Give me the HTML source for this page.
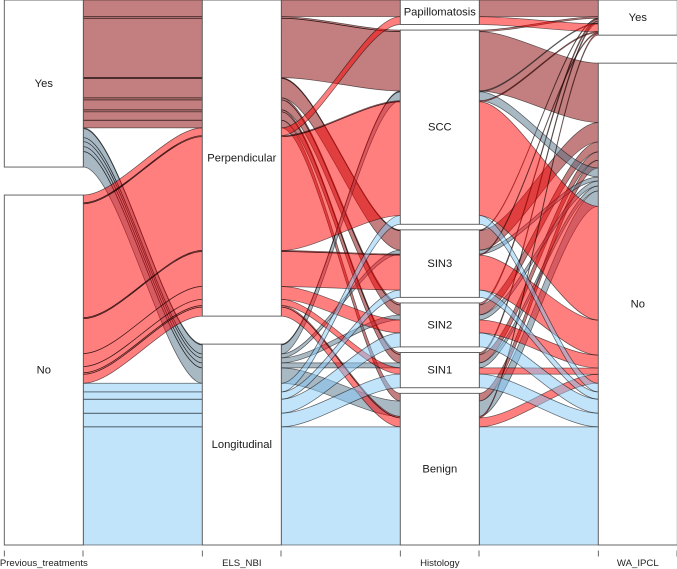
<!DOCTYPE html>
<html lang="en">
<head>
<meta charset="utf-8">
<title>Alluvial chart</title>
<style>
html,body{margin:0;padding:0;background:#fff;}
svg{display:block;font-family:"Liberation Sans",Arial,sans-serif;}
</style>
</head>
<body>
<svg id="chart" xmlns="http://www.w3.org/2000/svg" width="677" height="569" viewBox="0 0 677 569"></svg>
<script>
var axisNames = ["Previous_treatments", "ELS_NBI", "Histology", "WA_IPCL"];
var prevCategories = ["Yes", "No"];
var elsCategories = ["Perpendicular", "Longitudinal"];
var histCategories = ["Papillomatosis", "SCC", "SIN3", "SIN2", "SIN1", "Benign"];
var waCategories = ["Yes", "No"];

var rowPrev = ["Yes","Yes","Yes","Yes","Yes","Yes","Yes","Yes","Yes","Yes",
               "Yes","Yes","Yes","Yes","Yes","Yes",
               "No","No","No","No","No","No","No","No","No",
               "No","No","No","No","No"];
var rowEls  = ["Perpendicular","Perpendicular","Perpendicular","Perpendicular","Perpendicular","Perpendicular","Perpendicular","Perpendicular","Perpendicular","Perpendicular",
               "Longitudinal","Longitudinal","Longitudinal","Longitudinal","Longitudinal","Longitudinal",
               "Perpendicular","Perpendicular","Perpendicular","Perpendicular","Perpendicular","Perpendicular","Perpendicular","Perpendicular","Perpendicular",
               "Longitudinal","Longitudinal","Longitudinal","Longitudinal","Longitudinal"];
var rowHist = ["Papillomatosis","SCC","SCC","SIN3","SIN3","SIN2","SIN2","SIN1","SIN1","Benign",
               "SCC","SCC","SIN3","SIN2","SIN1","Benign",
               "Papillomatosis","SCC","SCC","SIN3","SIN3","SIN2","SIN1","Benign","Benign",
               "SCC","SIN3","SIN2","SIN1","Benign"];
var rowWa   = ["Yes","Yes","No","Yes","No","Yes","No","Yes","No","No",
               "Yes","No","No","No","No","No",
               "Yes","Yes","No","Yes","No","No","No","Yes","No",
               "No","No","No","No","No"];
var rowFreq = [16.7,1.6,59.4,0.8,19.5,2,10,2,8.4,7.7,
               0.8,9,4,5,5,15.4,
               7.8,1,114,1,35,13,6.2,1.5,9,
               8.7,7.3,14,13.7,118.3];

var groupFills = {
  "Yes|Perpendicular": "rgba(136,0,0,0.5)",
  "Yes|Longitudinal": "rgba(83,115,137,0.5)",
  "No|Perpendicular": "rgba(255,0,0,0.5)",
  "No|Longitudinal": "rgba(133,201,247,0.5)"
};

var NS = "http://www.w3.org/2000/svg";
var svg = document.getElementById("chart");
var axisLeft = function (i) { return 4.3 + i * 198; };
var boxWidth = 79;
var plotHeight = 545;
var totalGap = 28;
var totalFreq = rowFreq.reduce(function (a, b) { return a + b; }, 0);
var yScale = function (v) { return v * (plotHeight - totalGap) / totalFreq; };

var axes = [
  { cats: prevCategories, vals: rowPrev },
  { cats: elsCategories, vals: rowEls },
  { cats: histCategories, vals: rowHist },
  { cats: waCategories, vals: rowWa }
];

axes.forEach(function (axis) {
  var gap = totalGap / (axis.cats.length - 1);
  var cursor = 0;
  axis.boxes = [];
  axis.tops = new Array(rowFreq.length);
  axis.cats.forEach(function (cat) {
    var start = cursor;
    rowFreq.forEach(function (f, r) {
      if (axis.vals[r] === cat) {
        axis.tops[r] = cursor;
        cursor += yScale(f);
      }
    });
    axis.boxes.push({ cat: cat, y0: start, y1: cursor });
    cursor += gap;
  });
});

function flowPath(x0, x1, a0, b0, a1, b1) {
  var w = x1 - x0;
  var c0 = x0 + 0.29 * w;
  var c1 = x0 + 0.71 * w;
  return "M" + x0 + "," + a0 +
    "C" + c0 + "," + a0 + " " + c1 + "," + a1 + " " + x1 + "," + a1 +
    "L" + x1 + "," + b1 +
    "C" + c1 + "," + b1 + " " + c0 + "," + b0 + " " + x0 + "," + b0 + "Z";
}

for (var r = 0; r < rowFreq.length; r++) {
  for (var s = 0; s < axes.length - 1; s++) {
    var h = yScale(rowFreq[r]);
    var flow = document.createElementNS(NS, "path");
    flow.setAttribute("d", flowPath(axisLeft(s) + boxWidth, axisLeft(s + 1),
      axes[s].tops[r], axes[s].tops[r] + h,
      axes[s + 1].tops[r], axes[s + 1].tops[r] + h));
    flow.setAttribute("fill", groupFills[rowPrev[r] + "|" + rowEls[r]]);
    flow.setAttribute("stroke", "#000");
    flow.setAttribute("stroke-opacity", "0.58");
    flow.setAttribute("stroke-width", "0.72");
    
    
    svg.appendChild(flow);
  }
}

axes.forEach(function (axis, i) {
  var x = axisLeft(i);
  axis.boxes.forEach(function (b) {
    var box = document.createElementNS(NS, "rect");
    box.setAttribute("x", x);
    box.setAttribute("y", b.y0);
    box.setAttribute("width", boxWidth);
    box.setAttribute("height", b.y1 - b.y0);
    box.setAttribute("fill", "#fff");
    box.setAttribute("stroke", "#555");
    box.setAttribute("stroke-width", "0.9");
    
    
    svg.appendChild(box);

    var label = document.createElementNS(NS, "text");
    label.setAttribute("x", x + boxWidth / 2);
    label.setAttribute("y", (b.y0 + b.y1) / 2 + 3.5);
    label.setAttribute("text-anchor", "middle");
    label.setAttribute("font-size", "11.2");
    label.setAttribute("fill", "#1a1a1a");
    
    
    label.textContent = b.cat;
    svg.appendChild(label);
  });

  [x, x + boxWidth - 0.3].forEach(function (tx) {
    var tick = document.createElementNS(NS, "line");
    tick.setAttribute("x1", tx);
    tick.setAttribute("x2", tx);
    tick.setAttribute("y1", 550.5);
    tick.setAttribute("y2", 556.5);
    tick.setAttribute("stroke", "#444");
    tick.setAttribute("stroke-width", "0.8");
    
    
    svg.appendChild(tick);
  });

  var axisLabel = document.createElementNS(NS, "text");
  axisLabel.setAttribute("x", x + boxWidth / 2);
  axisLabel.setAttribute("y", 566);
  axisLabel.setAttribute("text-anchor", "middle");
  axisLabel.setAttribute("font-size", "9.6");
  axisLabel.setAttribute("fill", "#222");
  
  
  axisLabel.textContent = axisNames[i];
  svg.appendChild(axisLabel);
});
</script>
</body>
</html>
